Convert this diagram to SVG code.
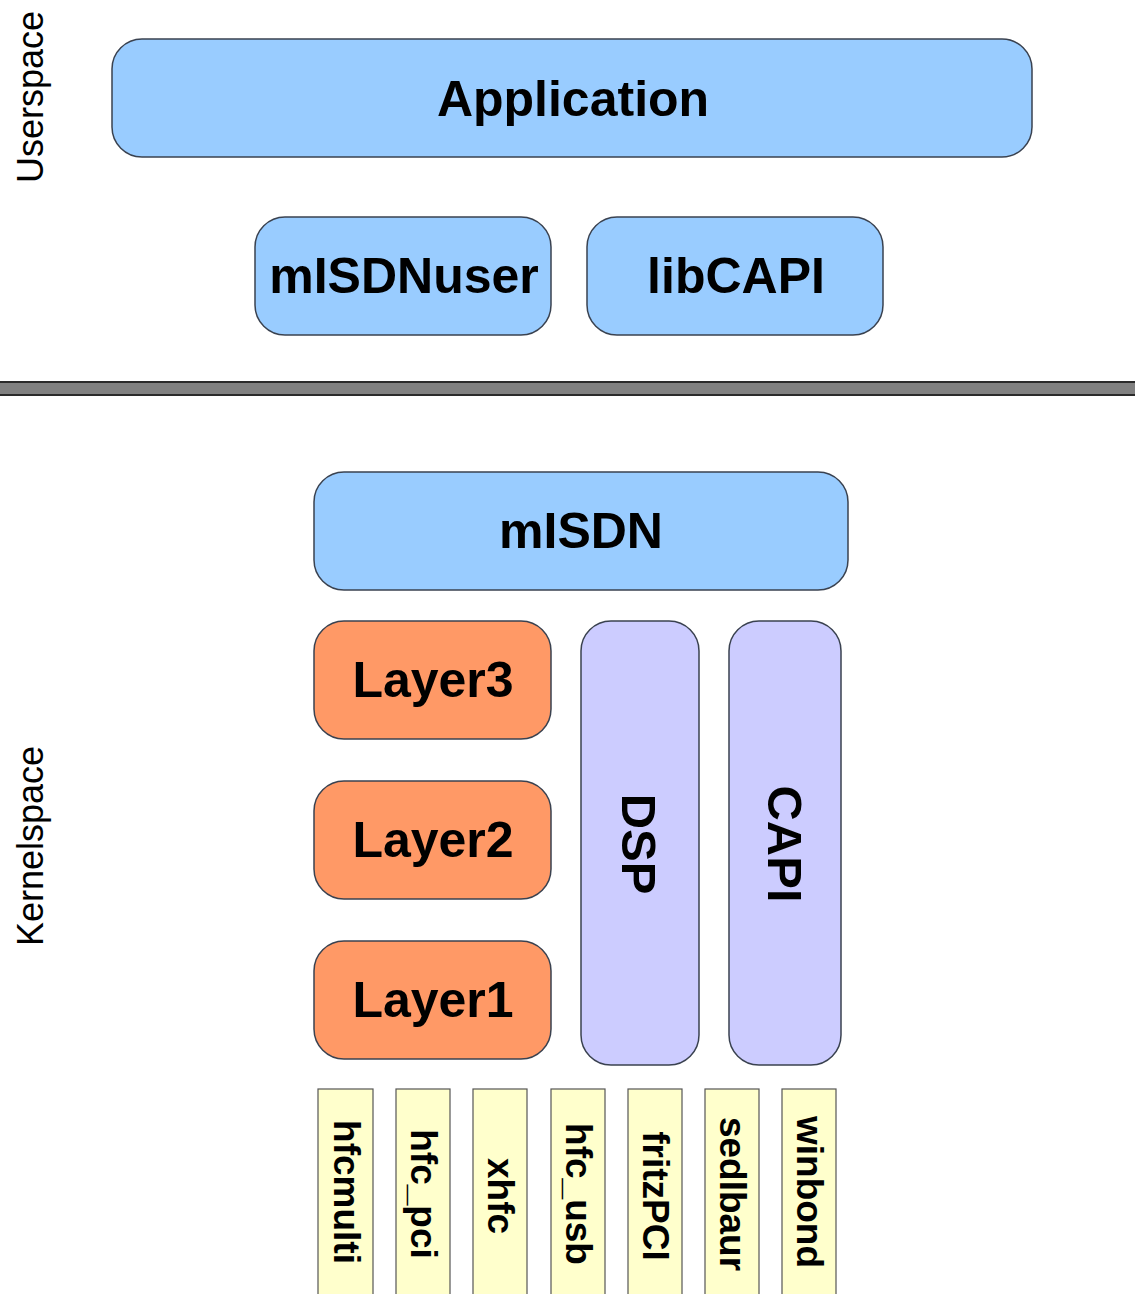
<svg xmlns="http://www.w3.org/2000/svg" width="1135" height="1294" viewBox="0 0 1135 1294">
  <style>
    .box { stroke: #3a4250; stroke-width: 1.5; }
    .blue { fill: #99ccff; }
    .orange { fill: #ff9966; }
    .violet { fill: #ccccff; }
    .yellow { fill: #ffffcc; stroke: #555; stroke-width: 1.2; }
    .t { font-family: "Liberation Sans", Arial, sans-serif; font-weight: bold; fill: #000; text-anchor: middle; dominant-baseline: central; }
    .big { font-size: 50px; }
    .tall { font-size: 49px; }
    .drv { font-size: 37px; }
    .side { font-family: "Liberation Sans", Arial, sans-serif; font-size: 36px; fill: #000; text-anchor: middle; dominant-baseline: central; }
  </style>
  <rect width="1135" height="1294" fill="#ffffff"/>

  <!-- space labels -->
  <text class="side" transform="translate(30,97) rotate(-90)">Userspace</text>
  <text class="side" transform="translate(30,846) rotate(-90)">Kernelspace</text>

  <!-- user/kernel boundary -->
  <g id="boundary">
    <rect x="0" y="381" width="1135" height="15" fill="#808080"/>
    <line x1="0" y1="382" x2="1135" y2="382" stroke="#2a2a2a" stroke-width="2"/>
    <line x1="0" y1="395" x2="1135" y2="395" stroke="#2a2a2a" stroke-width="2"/>
  </g>

  <g id="application">
    <rect class="box blue" x="112" y="39" width="920" height="118" rx="30"/>
    <text class="t big" x="573" y="99">Application</text>
  </g>
  <g id="misdnuser">
    <rect class="box blue" x="255" y="217" width="296" height="118" rx="30"/>
    <text class="t big" x="404" y="276">mISDNuser</text>
  </g>
  <g id="libcapi">
    <rect class="box blue" x="587" y="217" width="296" height="118" rx="30"/>
    <text class="t big" x="736" y="276">libCAPI</text>
  </g>

  <g id="misdn">
    <rect class="box blue" x="314" y="472" width="534" height="118" rx="30"/>
    <text class="t big" x="581" y="531">mISDN</text>
  </g>
  <g id="layer3">
    <rect class="box orange" x="314" y="621" width="237" height="118" rx="30"/>
    <text class="t big" x="433" y="680">Layer3</text>
  </g>
  <g id="layer2">
    <rect class="box orange" x="314" y="781" width="237" height="118" rx="30"/>
    <text class="t big" x="433" y="840">Layer2</text>
  </g>
  <g id="layer1">
    <rect class="box orange" x="314" y="941" width="237" height="118" rx="30"/>
    <text class="t big" x="433" y="1000">Layer1</text>
  </g>
  <g id="dsp">
    <rect class="box violet" x="581" y="621" width="118" height="444" rx="30"/>
    <text class="t tall" transform="translate(639,844) rotate(90)">DSP</text>
  </g>
  <g id="capi">
    <rect class="box violet" x="729" y="621" width="112" height="444" rx="30"/>
    <text class="t tall" transform="translate(785,844) rotate(90)">CAPI</text>
  </g>

  <!-- hardware drivers -->
  <g id="hfcmulti">
    <rect class="yellow" x="318" y="1089" width="55" height="220"/>
    <text class="t drv" transform="translate(346,1192) rotate(90)">hfcmulti</text>
  </g>
  <g id="hfc_pci">
    <rect class="yellow" x="396" y="1089" width="54" height="220"/>
    <text class="t drv" transform="translate(423,1194) rotate(90)">hfc_pci</text>
  </g>
  <g id="xhfc">
    <rect class="yellow" x="473" y="1089" width="54" height="220"/>
    <text class="t drv" transform="translate(500,1196) rotate(90)">xhfc</text>
  </g>
  <g id="hfc_usb">
    <rect class="yellow" x="551" y="1089" width="54" height="220"/>
    <text class="t drv" transform="translate(578,1194) rotate(90)">hfc_usb</text>
  </g>
  <g id="fritzpci">
    <rect class="yellow" x="628" y="1089" width="54" height="220"/>
    <text class="t drv" transform="translate(655,1196) rotate(90)">fritzPCI</text>
  </g>
  <g id="sedlbaur">
    <rect class="yellow" x="705" y="1089" width="54" height="220"/>
    <text class="t drv" transform="translate(732,1194) rotate(90)">sedlbaur</text>
  </g>
  <g id="winbond">
    <rect class="yellow" x="782" y="1089" width="54" height="220"/>
    <text class="t drv" transform="translate(809,1192) rotate(90)">winbond</text>
  </g>

  <g id="connectors"></g>
</svg>
